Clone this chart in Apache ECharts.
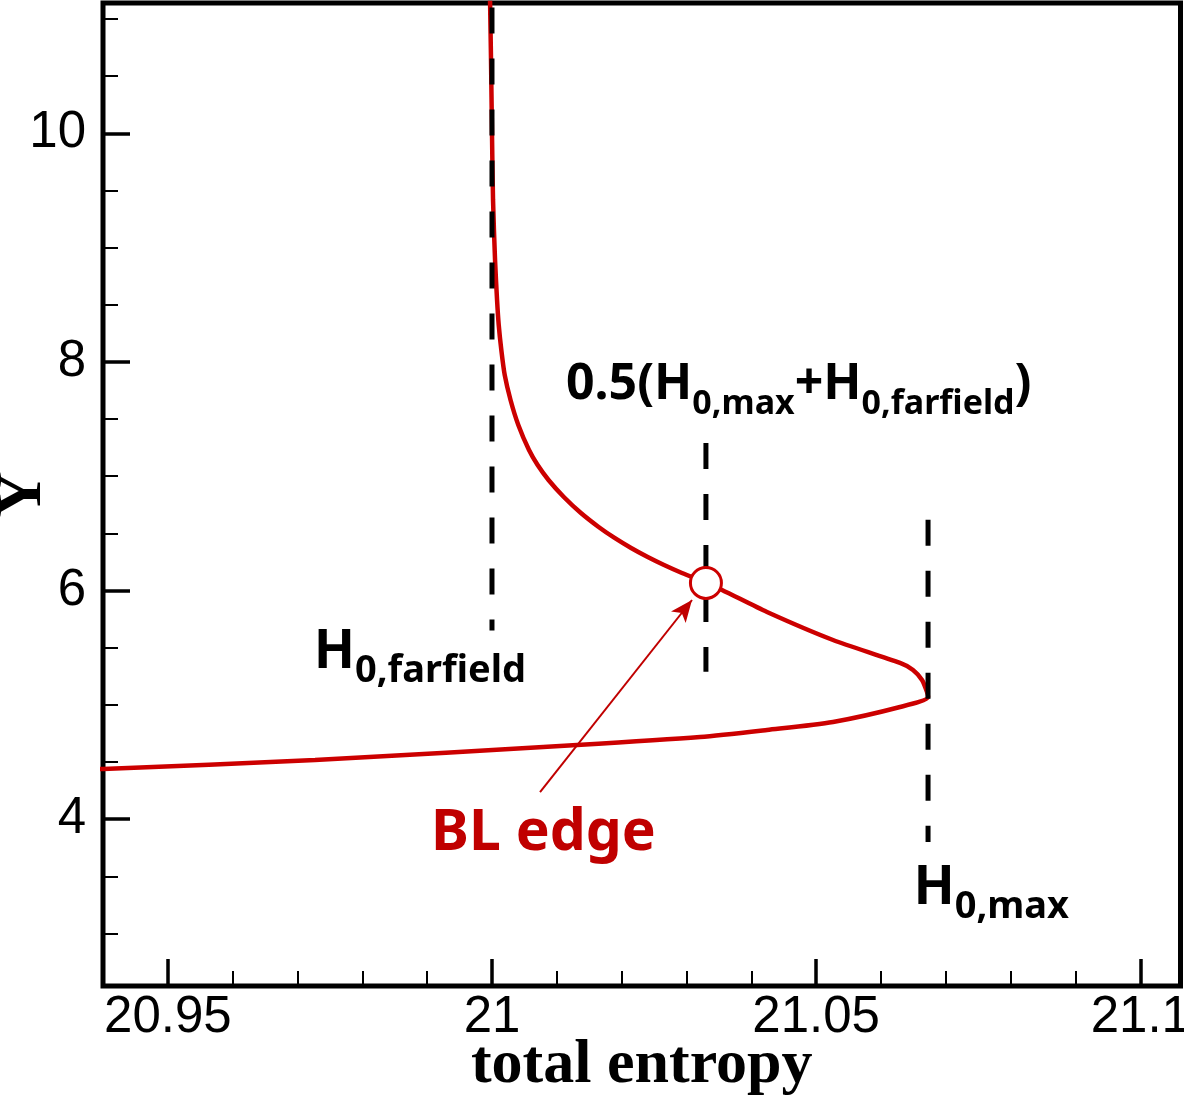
<!DOCTYPE html>
<html>
<head>
<meta charset="utf-8">
<script src="https://cdn.jsdelivr.net/npm/echarts@6/dist/echarts.min.js"></script>
<style>
html,body{margin:0;padding:0;background:#fff;}
#chart{width:1184px;height:1095px;}
</style>
</head>
<body>
<div id="chart"></div>
<script>
// ---- data ----
const xTickValues = [20.95, 21, 21.05, 21.1];
const xTickLabels = ['20.95', '21', '21.05', '21.1'];
const xMinorTicks = [20.96, 20.97, 20.98, 20.99, 21.01, 21.02, 21.03, 21.04, 21.06, 21.07, 21.08, 21.09];
const yTickValues = [4, 6, 8, 10];
const yTickLabels = ['4', '6', '8', '10'];
const yMinorTicks = [3, 3.5, 4.5, 5, 5.5, 6.5, 7, 7.5, 8.5, 9, 9.5, 10.5, 11];

// total entropy profile (x) vs Y (y)
const curveX = [20.99969, 20.99985, 21.00000, 21.00016, 21.00047, 21.00078, 21.00104, 21.00144, 21.00196, 21.00286,
                21.00406, 21.00571, 21.00704, 21.00872, 21.01108, 21.01372, 21.01645, 21.01891, 21.02146, 21.02402,
                21.02654, 21.02930, 21.03301, 21.03548, 21.04242, 21.05260, 21.06294, 21.06494, 21.06633, 21.06710,
                21.06726, 21.06294, 21.05260, 21.04242, 21.03209, 21.01311, 20.97270, 20.94000, 20.93337];
const curveY = [11.20, 10.641, 10.003, 9.417, 8.892, 8.542, 8.323, 8.104, 7.886, 7.667,
                7.448, 7.229, 7.098, 6.967, 6.818, 6.678, 6.556, 6.460, 6.372, 6.293,
                6.223, 6.153, 6.066, 6.005, 5.812, 5.567, 5.366, 5.305, 5.217, 5.112,
                5.068, 4.981, 4.850, 4.780, 4.718, 4.648, 4.517, 4.439, 4.421];

// vertical dashed reference lines
const refLineX = [21.0000, 21.0330, 21.06726];
const refLineTop = [11.10, 7.29, 6.62];
const refLineBottom = [5.65, 5.29, 3.80];

// BL edge marker and arrow
const edgePoint = [21.0330, 6.066];
const arrowFrom = [21.00741, 4.237];
const arrowTo = [21.03085, 5.917];

// annotation texts and anchors (left-middle)
const annoText = ['{h|H}{s|0,farfield}', '{m|0.5(H}{t|0,max}{m|+H}{t|0,farfield}{m|)}', '{h|H}{s|0,max}', '{r|BL edge}'];
const annoX = [20.9725, 21.0114, 21.0650, 20.9906];
const annoY = [5.364, 7.700, 3.300, 3.869];

// ---- chart ----
const RED = '#cc0000';
const chart = echarts.init(document.getElementById('chart'), null, {renderer: 'canvas'});

const curveData = curveX.map((x, i) => [x, curveY[i]]);
const dashedSeries = refLineX.map((x, i) => ({
  type: 'line',
  name: 'ref' + i,
  data: [[x, refLineTop[i]], [x, refLineBottom[i]]],
  symbol: 'none',
  lineStyle: {color: '#000', width: 5, type: [26, 25], cap: 'butt'},
  z: 3,
  silent: true,
  animation: false
}));

const FONT = 'Noto Sans';
const richStyles = {
  h: {fontFamily: FONT, fontWeight: 'bold', fontSize: 54, lineHeight: 54, color: '#000', padding: [0, 0, 11, 0], verticalAlign: 'bottom'},
  s: {fontFamily: FONT, fontWeight: 'bold', fontSize: 38, lineHeight: 38, color: '#000', verticalAlign: 'bottom'},
  m: {fontFamily: FONT, fontWeight: 'bold', fontSize: 50, lineHeight: 50, color: '#000', padding: [0, 0, 11, 0], verticalAlign: 'bottom'},
  t: {fontFamily: FONT, fontWeight: 'bold', fontSize: 34, lineHeight: 34, color: '#000', verticalAlign: 'bottom'},
  r: {fontFamily: FONT, fontWeight: 'bold', fontSize: 57, lineHeight: 57, color: '#c00000'}
};

const option = {
  backgroundColor: '#fff',
  animation: false,
  grid: {
    left: 103, top: 3, right: 3.5, bottom: 109,
    show: true, borderColor: '#000', borderWidth: 5, backgroundColor: 'transparent',
    outerBoundsMode: 'none'
  },
  xAxis: [{
    type: 'value', min: 20.94, max: 21.1062, position: 'bottom',
    name: 'total entropy', nameLocation: 'middle', nameGap: 49, nameMoveOverlap: false,
    nameTextStyle: {fontFamily: 'Liberation Serif', fontWeight: 'bold', fontSize: 62, color: '#000'},
    axisLine: {show: false, onZero: false},
    splitLine: {show: false},
    axisTick: {show: true, inside: true, length: 27, customValues: xTickValues, lineStyle: {color: '#000', width: 3.5}},
    axisLabel: {show: true, margin: 6, customValues: xTickValues,
      formatter: v => { const i = xTickValues.findIndex(t => Math.abs(t - v) < 1e-9); return i >= 0 ? xTickLabels[i] : ''; },
      fontFamily: 'Liberation Sans', fontSize: 51, color: '#000'}
  }, {
    type: 'value', min: 20.94, max: 21.1062, position: 'bottom',
    axisLine: {show: false, onZero: false},
    splitLine: {show: false},
    axisTick: {show: true, inside: true, length: 15, customValues: xMinorTicks, lineStyle: {color: '#000', width: 2}},
    axisLabel: {show: false}
  }],
  yAxis: [{
    type: 'value', min: 2.54, max: 11.14, position: 'left',
    name: 'Y', nameLocation: 'middle', nameGap: 48, nameMoveOverlap: false,
    nameTextStyle: {fontFamily: 'Liberation Serif', fontWeight: 'bold', fontSize: 64, color: '#000'},
    axisLine: {show: false, onZero: false},
    splitLine: {show: false},
    axisTick: {show: true, inside: true, length: 27, customValues: yTickValues, lineStyle: {color: '#000', width: 3.5}},
    axisLabel: {show: true, margin: 17, customValues: yTickValues,
      formatter: v => { const i = yTickValues.findIndex(t => Math.abs(t - v) < 1e-9); return i >= 0 ? yTickLabels[i] : ''; },
      fontFamily: 'Liberation Sans', fontSize: 51, color: '#000'}
  }, {
    type: 'value', min: 2.54, max: 11.14, position: 'left',
    axisLine: {show: false, onZero: false},
    splitLine: {show: false},
    axisTick: {show: true, inside: true, length: 15, customValues: yMinorTicks, lineStyle: {color: '#000', width: 2}},
    axisLabel: {show: false}
  }],
  series: [
    {
      type: 'line', name: 'total entropy',
      data: curveData, smooth: 0.25, symbol: 'none',
      lineStyle: {color: RED, width: 4.5},
      z: 2, clip: true
    },
    ...dashedSeries,
    {
      type: 'scatter', name: 'BL edge',
      data: [edgePoint],
      symbol: 'circle', symbolSize: 31,
      itemStyle: {color: '#fff', borderColor: RED, borderWidth: 3, opacity: 1},
      z: 5,
      markLine: {
        silent: true,
        symbol: ['none', 'arrow'],
        symbolSize: [14, 22],
        label: {show: false},
        lineStyle: {color: '#c00000', width: 2, type: 'solid', opacity: 1},
        data: [[{coord: arrowFrom}, {coord: arrowTo}]]
      }
    },
    {
      type: 'scatter', name: 'annotations',
      data: annoX.map((x, i) => [x, annoY[i], annoText[i]]),
      symbolSize: 0,
      silent: true,
      z: 6,
      itemStyle: {opacity: 1},
      label: {
        show: true, position: 'right', distance: 0, opacity: 1,
        formatter: p => p.data[2],
        rich: richStyles
      }
    }
  ]
};
chart.setOption(option);
</script>
</body>
</html>
